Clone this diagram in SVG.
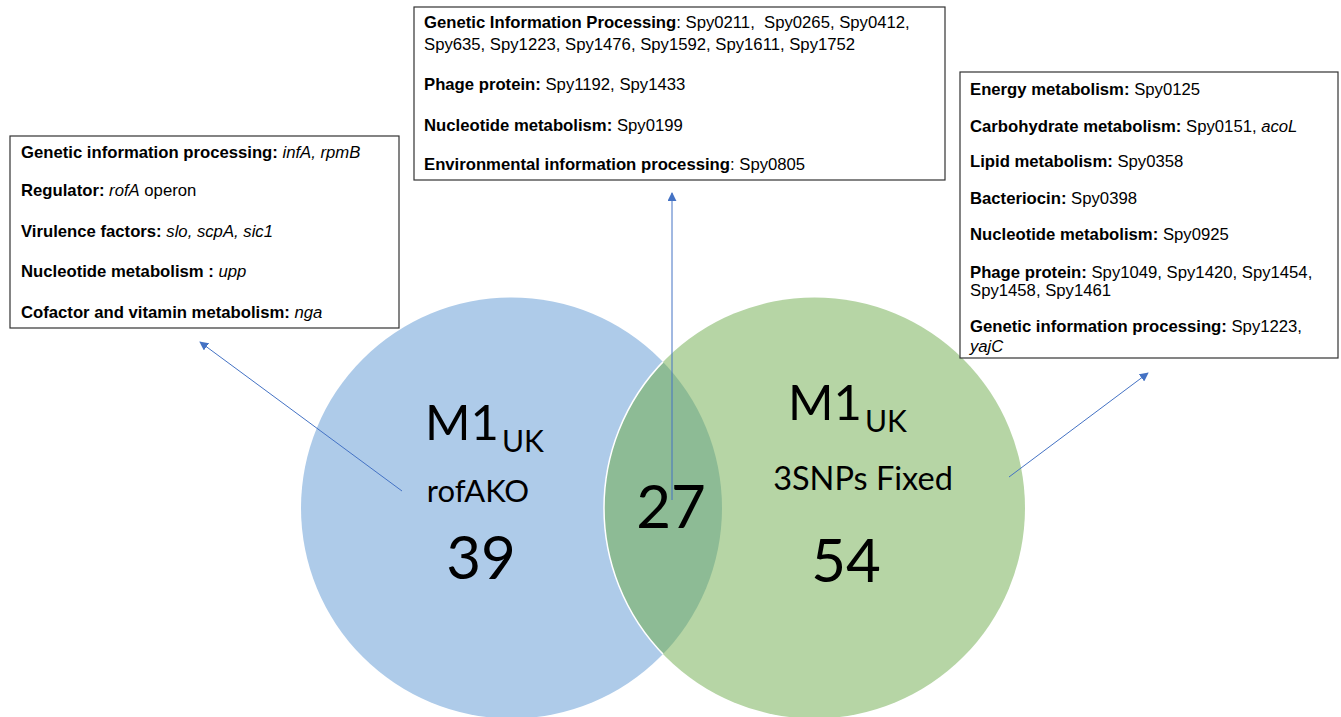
<svg xmlns="http://www.w3.org/2000/svg" width="1341" height="717" viewBox="0 0 1341 717">
<style>
.box{fill:#fff;stroke:#333;stroke-width:1.2}
.t{font-family:"Liberation Sans",Arial,sans-serif;font-size:16.7px;fill:#000}
.b{font-weight:bold}
.i{font-style:italic}
.c{font-family:Lato,"Liberation Sans",sans-serif;fill:#000}
.arr{stroke:#4472c4;stroke-width:1;fill:none;marker-end:url(#ah)}
</style>
<defs>
<marker id="ah" viewBox="0 0 10 10" refX="9" refY="5" markerWidth="9" markerHeight="9" markerUnits="userSpaceOnUse" orient="auto">
<path d="M0,0 L10,5 L0,10 z" fill="#4472c4"/>
</marker>
<clipPath id="blueClip"><circle cx="511.5" cy="508" r="210.5"/></clipPath>
</defs>
<rect width="1341" height="717" fill="#fff"/>

<g id="circle-left">
<circle cx="511.5" cy="508" r="210.5" fill="#aecbe9"/>
</g>
<g id="circle-right">
<circle cx="814.5" cy="508" r="210.5" fill="#b6d5a5"/>
</g>
<g id="overlap">
<circle cx="814.5" cy="508" r="210.5" fill="#8dbb95" clip-path="url(#blueClip)"/>
<circle cx="814.5" cy="508" r="210.5" fill="none" stroke="#fff" stroke-width="1.5" clip-path="url(#blueClip)"/>
</g>

<g id="label-left">
<text class="c" x="425" y="440" font-size="49">M1</text>
<text class="c" x="502" y="452" font-size="30">UK</text>
<text class="c" x="478" y="502" font-size="31" text-anchor="middle">rofAKO</text>
<text class="c" x="481" y="579" font-size="60" text-anchor="middle">39</text>
</g>
<g id="label-center">
<text class="c" x="671" y="528" font-size="60" text-anchor="middle">27</text>
</g>
<g id="label-right">
<text class="c" x="788" y="420" font-size="49">M1</text>
<text class="c" x="865" y="432" font-size="30">UK</text>
<text class="c" x="863" y="490" font-size="32.5" text-anchor="middle">3SNPs Fixed</text>
<text class="c" x="846" y="582" font-size="60" text-anchor="middle">54</text>
</g>

<g id="connectors">
<line class="arr" x1="402" y1="491" x2="200" y2="342"/>
<line class="arr" x1="672" y1="500" x2="672" y2="193"/>
<line class="arr" x1="1009" y1="477" x2="1148" y2="373"/>
</g>

<g id="box-left">
<rect class="box" x="10" y="136" width="389" height="192"/>
<text class="t" x="21" y="158"><tspan class="b">Genetic information processing: </tspan><tspan class="i">infA, rpmB</tspan></text>
<text class="t" x="21" y="196"><tspan class="b">Regulator: </tspan><tspan class="i">rofA</tspan> operon</text>
<text class="t" x="21" y="237"><tspan class="b">Virulence factors: </tspan><tspan class="i">slo, scpA, sic1</tspan></text>
<text class="t" x="21" y="277"><tspan class="b">Nucleotide metabolism : </tspan><tspan class="i">upp</tspan></text>
<text class="t" x="21" y="318"><tspan class="b">Cofactor and vitamin metabolism: </tspan><tspan class="i">nga</tspan></text>
</g>

<g id="box-center">
<rect class="box" x="414" y="7" width="531" height="173"/>
<text class="t" x="424" y="28"><tspan class="b">Genetic Information Processing</tspan>: Spy0211,&#160; Spy0265, Spy0412,</text>
<text class="t" x="424" y="50">Spy635, Spy1223, Spy1476, Spy1592, Spy1611, Spy1752</text>
<text class="t" x="424" y="90"><tspan class="b">Phage protein: </tspan>Spy1192, Spy1433</text>
<text class="t" x="424" y="131"><tspan class="b">Nucleotide metabolism: </tspan>Spy0199</text>
<text class="t" x="424" y="170"><tspan class="b">Environmental information processing</tspan>: Spy0805</text>
</g>

<g id="box-right">
<rect class="box" x="960" y="72" width="378" height="286"/>
<text class="t" x="970" y="95"><tspan class="b">Energy metabolism: </tspan>Spy0125</text>
<text class="t" x="970" y="132"><tspan class="b">Carbohydrate metabolism: </tspan>Spy0151, <tspan class="i">acoL</tspan></text>
<text class="t" x="970" y="167"><tspan class="b">Lipid metabolism: </tspan>Spy0358</text>
<text class="t" x="970" y="204"><tspan class="b">Bacteriocin: </tspan>Spy0398</text>
<text class="t" x="970" y="240"><tspan class="b">Nucleotide metabolism: </tspan>Spy0925</text>
<text class="t" x="970" y="278"><tspan class="b">Phage protein: </tspan>Spy1049, Spy1420, Spy1454,</text>
<text class="t" x="970" y="296">Spy1458, Spy1461</text>
<text class="t" x="970" y="332"><tspan class="b">Genetic information processing: </tspan>Spy1223,</text>
<text class="t" x="970" y="352" font-style="italic">yajC</text>
</g>
</svg>
